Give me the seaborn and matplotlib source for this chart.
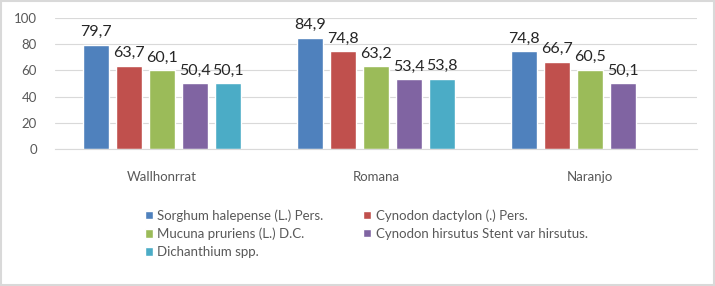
import numpy as np
import pandas as pd
import matplotlib
matplotlib.use('Agg')
import matplotlib.pyplot as plt
import seaborn as sns
from matplotlib.patches import Rectangle

sites = ["Wallhonrrat", "Romana", "Naranjo"]
species = ["Sorghum halepense (L.) Pers.", "Cynodon dactylon (.) Pers.",
           "Mucuna pruriens (L.) D.C.", "Cynodon hirsutus Stent var hirsutus.",
           "Dichanthium spp."]
sorghum = [79.7, 84.9, 74.8]
cynodon_d = [63.7, 74.8, 66.7]
mucuna = [60.1, 63.2, 60.5]
cynodon_h = [50.4, 53.4, 50.1]
dichanthium = [50.1, 53.8, np.nan]
colors = ["#4F81BD", "#C0504D", "#9BBB59", "#8064A2", "#4BACC6"]

rows = []
for sp, vals in zip(species, [sorghum, cynodon_d, mucuna, cynodon_h, dichanthium]):
    for site, v in zip(sites, vals):
        rows.append({"site": site, "species": sp, "value": v})
df = pd.DataFrame(rows)

sns.set_style("white")
plt.rcParams['font.family'] = ['Lato', 'DejaVu Sans']

fig = plt.figure(figsize=(7.15, 2.86), dpi=100)
ax = fig.add_axes([0.077, 0.479, 0.898, 0.458])
sns.barplot(data=df, x="site", y="value", hue="species", order=sites,
            hue_order=species, palette=colors, width=0.77, gap=0.2,
            saturation=1, ax=ax)

for cont in ax.containers:
    labels = ["" if np.isnan(v) else f"{v:.1f}".replace(".", ",") for v in cont.datavalues]
    ax.bar_label(cont, labels=labels, padding=4, fontsize=11.5, color="#262626")

ax.set_ylim(0, 100)
ax.set_yticks(range(0, 101, 20))
ax.set_xlim(-0.5, 2.5)
ax.set_xlabel("")
ax.set_ylabel("")
ax.yaxis.grid(True, color="#D9D9D9", linewidth=0.8)
ax.set_axisbelow(True)
for s in ["top", "right", "left"]:
    ax.spines[s].set_visible(False)
ax.spines["bottom"].set_color("#D9D9D9")
ax.tick_params(axis="y", length=0, pad=13, labelsize=9.5, labelcolor="#595959")
ax.tick_params(axis="x", length=0, pad=16, labelsize=9.5, labelcolor="#595959")

handles, labs = ax.get_legend_handles_labels()
ax.legend_.remove()
order = [0, 2, 4, 1, 3]  # fill legend row by row
fig.legend([handles[i] for i in order], [labs[i] for i in order],
           loc="upper left", bbox_to_anchor=(0.186, 0.31),
           ncol=2, frameon=False, fontsize=9.5, labelcolor="#595959",
           handlelength=0.6, handleheight=0.6, handletextpad=0.35,
           columnspacing=3.0, labelspacing=0.45)

fig.patches.append(Rectangle((0.002, 0.004), 0.996, 0.992, transform=fig.transFigure,
                             fill=False, edgecolor="#D9D9D9", linewidth=1.5))

plt.savefig("out.png", dpi=100)
